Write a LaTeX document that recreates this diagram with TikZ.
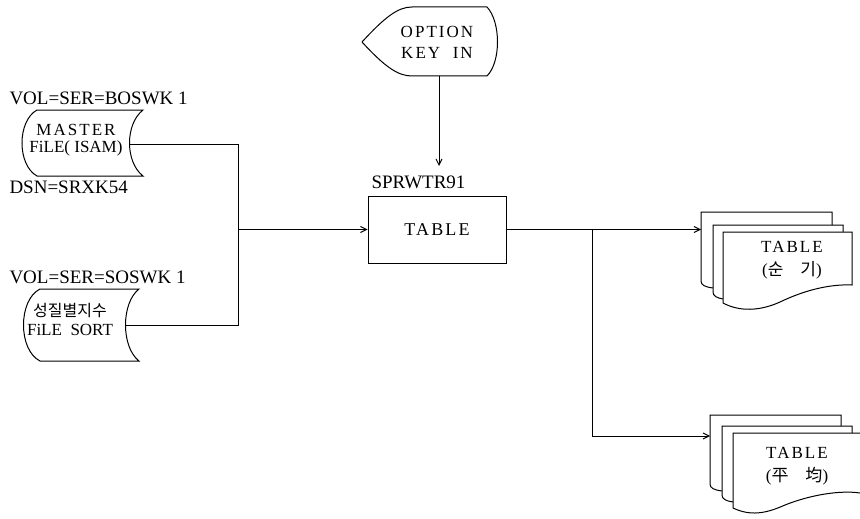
\documentclass[tikz,border=0pt]{standalone}
\usepackage{fontspec}
\setmainfont{Liberation Serif}
\newfontfamily\kor{Noto Sans CJK KR}
\newfontfamily\spaced[LetterSpace=12]{Liberation Serif}
\usetikzlibrary{arrows.meta}

\begin{document}
\begin{tikzpicture}[x=1pt, y=-1pt, line width=1pt,
  >={Straight Barb[length=6pt,width=6pt]},
  caption/.style={font=\fontsize{19}{20}\selectfont, inner sep=0pt, anchor=west},
  txt/.style={font=\fontsize{17}{21}\selectfont\spaced, align=center, inner sep=0pt}]
\useasboundingbox (0,0) rectangle (860,519);

% option key in
\draw (362,42) .. controls (385,17) and (398,7) .. (412,7) -- (487,7)
  .. controls (501,22) and (501,62) .. (487,76) -- (412,76)
  .. controls (398,76) and (385,67) .. (362,42);
\node[txt] (option) at (437,42) {OPTION\\KEY\ \ IN};
\coordinate (optout) at (439,76);
\coordinate (optend) at (439,166);

% program
\node[draw, txt, font=\fontsize{18}{21}\selectfont\spaced, minimum width=138pt, minimum height=67pt] (table) at (437,229.5) {TABLE};
\node[caption] (prog) at (371,182) {SPRWTR91};

% master file
\draw (37,110) -- (143,110) .. controls (125,124) and (125,162) .. (143,176)
  -- (37,176) .. controls (17,165) and (17,121) .. (37,110);
\node[txt, font=\fontsize{17}{17}\selectfont] (master) at (76,140) {{\spaced MASTER}\\FiLE( ISAM)};
\node[caption] (vol1) at (9,98) {VOL=SER=BOSWK 1};
\node[caption] (dsn) at (9,187) {DSN=SRXK54};
\coordinate (masterout) at (130,144);

% sort file
\draw (40,289) -- (139,289) .. controls (121,303) and (121,347) .. (139,361)
  -- (40,361) .. controls (18,350) and (18,300) .. (40,289);
\node[txt, font=\fontsize{17}{19}\selectfont] (sort) at (70,319) {{\kor\fontsize{16}{18}\selectfont 성질별지수}\\FiLE\ \ SORT};
\node[caption] (vol2) at (9,277) {VOL=SER=SOSWK 1};
\coordinate (sortout) at (126,325);

% report 1
\draw (832,225) -- (832,212) -- (701,212) -- (701,281) .. controls (701,285) and (705,287) .. (713,288);
\draw (843,232) -- (843,225) -- (713,225) -- (713,292) .. controls (713,296) and (717,298) .. (723,299);
\draw (723,232) -- (852,232) -- (852,285) .. controls (830,284) and (805,290) .. (780,302)
  .. controls (760,311) and (740,312) .. (723,303) -- cycle;
\node[txt, font=\fontsize{17}{23}\selectfont] (sunki) at (792,260) {{\spaced TABLE}\\({\kor 순}\quad{\kor 기})};
\coordinate (list1) at (701,229.5);

% report 2
\draw (841,426) -- (841,415) -- (710,415) -- (710,484) .. controls (710,488) and (714,490) .. (722,491);
\draw (852,433) -- (852,426) -- (722,426) -- (722,495) .. controls (722,499) and (726,501) .. (733,502);
\draw (860,433) -- (733,433) -- (733,508) .. controls (750,516) and (765,514) .. (785,505)
  .. controls (810,495) and (840,490) .. (860,493);
\node[txt, font=\fontsize{17}{23}\selectfont] (pyungkyun) at (797,466) {{\spaced TABLE}\\({\kor 平}\quad{\kor 均})};
\coordinate (list2) at (710,436);

% connectors
\coordinate (merge) at ([xshift=-129pt]table.west);
\coordinate (split) at ([xshift=86pt]table.east);
\draw[->] (optout) -- (optend);
\draw (masterout) -| (merge);
\draw (sortout) -| (merge);
\draw[->] (merge) -- (table.west);
\draw[->] (table.east) -- (list1);
\draw[->] (split) |- (list2);
\end{tikzpicture}
\end{document}
